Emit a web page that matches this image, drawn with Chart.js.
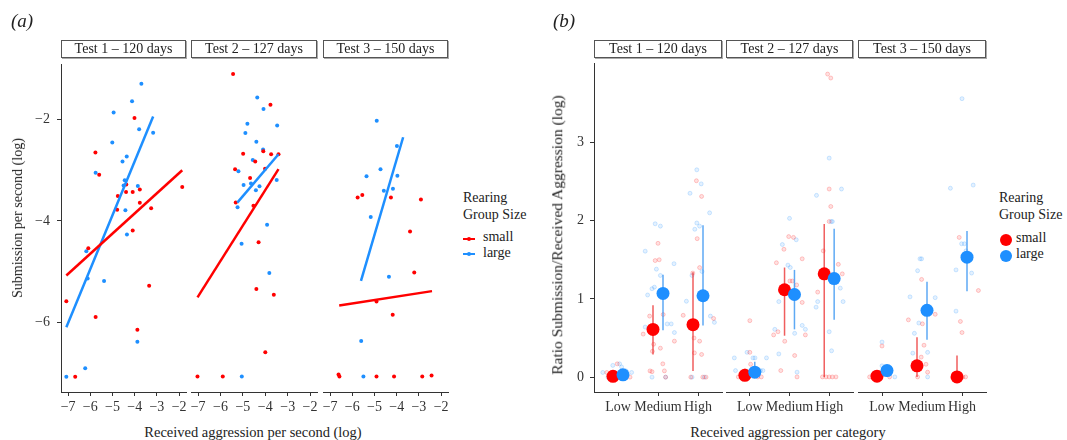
<!DOCTYPE html>
<html>
<head>
<meta charset="utf-8">
<script src="https://cdn.jsdelivr.net/npm/chart.js@4.4.1/dist/chart.umd.min.js"></script>
<style>
body { margin: 0; background: #fff; font-family: 'Liberation Serif', serif; color: #222; }
#wrap { position: relative; width: 1067px; height: 440px; overflow: hidden; }
canvas { position: absolute; }
.t { position: absolute; font-size: 14px; white-space: nowrap; line-height: 1; }
.strip { position: absolute; top: 40px; height: 18px; border: 1px solid #555; box-shadow: 1px 1px 0 #aaa;
  box-sizing: border-box; text-align: center; font-size: 14px; line-height: 16px; background: #fff; }
.lab { position: absolute; font-size: 19px; font-style: italic; }
</style>
</head>
<body>
<div id="wrap"></div>
<script>
const testLabels = ['Test 1 \u2013 120 days', 'Test 2 \u2013 127 days', 'Test 3 \u2013 150 days']
const categories = ['Low', 'Medium', 'High']
const aXTicks = [-7, -6, -5, -4, -3, -2]
const aYTicks = [-2, -4, -6]
const bYTicks = [0, 1, 2, 3]

// panel a: [received aggression, submission] (log)
const aSmall1 = [[-4.01,-1.97],[-5.77,-2.65],[-5.6,-3.09],[-4.38,-3.28],[-3.77,-3.38],[-4.09,-3.43],[-4.39,-3.43],[-4.76,-3.51],[-1.86,-3.33],[-3.77,-3.64],[-3.26,-3.75],[-4.79,-3.78],[-4.09,-4.19],[-6.09,-4.54],[-3.35,-5.28],[-7.08,-5.59],[-5.76,-5.9],[-3.88,-6.15],[-6.68,-7.08]]
const aLarge1 = [[-3.7,-1.29],[-4.12,-1.64],[-4.95,-1.86],[-3.8,-2.19],[-3.17,-2.26],[-5.01,-2.45],[-4.36,-2.73],[-4.55,-2.83],[-5.76,-3.05],[-4.45,-3.2],[-4.5,-3.3],[-3.86,-3.31],[-4.42,-3.79],[-4.35,-4.27],[-6.18,-4.6],[-6.12,-5.14],[-5.38,-5.19],[-3.88,-6.39],[-6.23,-6.91],[-7.08,-7.08]]
const aSmall2 = [[-5.44,-1.2],[-3.77,-1.8],[-4.09,-2.7],[-4.99,-2.75],[-3.74,-2.76],[-3.41,-2.76],[-4.45,-2.9],[-5.35,-3.05],[-4.01,-3.04],[-4.68,-3.22],[-5.32,-3.7],[-4.53,-3.76],[-4.3,-4.47],[-4.4,-5.38],[-3.62,-5.49],[-4.0,-6.61],[-7.03,-7.08],[-5.9,-7.08]]
const aLarge2 = [[-4.36,-1.66],[-4.08,-1.88],[-4.8,-2.17],[-3.47,-2.2],[-4.89,-2.35],[-4.4,-2.52],[-4.1,-2.67],[-4.56,-2.87],[-5.2,-3.09],[-3.49,-3.26],[-4.64,-3.33],[-4.97,-3.36],[-4.26,-3.38],[-4.42,-3.46],[-5.24,-3.79],[-3.92,-4.13],[-5.06,-4.5],[-3.82,-5.07],[-5.05,-7.08]]
const aSmall3 = [[-5.76,-3.6],[-5.55,-3.55],[-4.26,-3.6],[-2.91,-3.64],[-3.4,-4.26],[-3.21,-5.06],[-4.91,-5.62],[-4.18,-5.88],[-6.62,-7.04],[-6.58,-7.08],[-4.91,-7.08],[-4.12,-7.08],[-2.85,-7.08],[-2.43,-7.06]]
const aLarge3 = [[-4.9,-2.11],[-3.99,-2.6],[-4.73,-3.05],[-5.36,-3.19],[-3.97,-3.18],[-4.58,-3.47],[-4.17,-3.43],[-5.17,-3.98],[-4.35,-5.14],[-5.6,-6.39],[-5.5,-7.08]]
const aSmallFit = [[[-7.08,-5.08],[-1.86,-3.0]], [[-7.03,-5.54],[-3.41,-3.05]], [[-6.59,-5.7],[-2.41,-5.42]]]
const aLargeFit = [[[-7.08,-6.1],[-3.17,-1.94]], [[-5.25,-3.7],[-3.41,-2.76]], [[-5.61,-5.22],[-3.71,-2.43]]]

// panel b: means and intervals per test, categories Low/Medium/High
const smallMean = [[0.01,0.61,0.67],[0.02,1.10,1.30],[0.01,0.14,0.00]]
const smallLo   = [[0.00,0.29,0.08],[0.00,0.52,0.00],[0.00,0.00,0.00]]
const smallHi   = [[0.04,0.92,1.34],[0.05,1.38,1.93],[0.02,0.50,0.27]]
const largeMean = [[0.03,1.07,1.04],[0.06,1.04,1.24],[0.08,0.84,1.51]]
const largeLo   = [[0.00,0.60,0.66],[0.00,0.60,0.72],[0.00,0.47,1.08]]
const largeHi   = [[0.08,1.31,1.94],[0.19,1.35,1.87],[0.14,1.20,1.84]]

// panel b raw (jittered) points: [category position, ratio]
const bSmall1 = [[0.98,0.17],[1.17,0.06],[0.8,0.0],[1.1,0.0],[0.72,0.06],[1.3,0.0],[2.0,1.71],[1.93,1.49],[2.03,1.5],[1.79,0.78],[2.13,0.8],[1.63,0.55],[1.89,0.42],[2.06,0.37],[1.86,0.33],[2.41,0.46],[1.8,0.08],[1.85,0.07],[2.12,0.17],[2.16,0.08],[2.19,0.0],[2.96,2.51],[3.09,2.31],[2.98,1.77],[3.04,1.4],[2.87,1.33],[2.63,0.79],[3.39,0.75],[3.04,0.46],[3.09,0.29],[2.91,0.31],[2.9,0.5],[2.82,0.0],[3.12,0.0],[3.2,0.0]]
const bLarge1 = [[0.62,0.06],[0.87,0.15],[1.04,0.17],[1.09,0.13],[1.34,0.06],[0.75,0.0],[1.2,0.08],[1.68,1.61],[1.93,1.96],[2.06,1.93],[2.4,1.45],[1.96,1.38],[2.06,1.3],[1.74,1.05],[1.85,1.13],[1.91,1.15],[1.68,0.64],[2.23,0.68],[2.33,0.68],[2.41,0.57],[1.85,0.0],[2.19,0.0],[2.97,2.65],[3.08,2.47],[2.8,2.35],[3.29,2.1],[2.97,1.97],[2.92,1.89],[3.04,1.93],[3.1,1.35],[2.85,1.3],[2.71,0.97],[3.31,0.78],[3.41,0.7],[2.85,0.0],[3.16,0.0]]
const bSmall2 = [[1.0,0.71],[1.0,0.31],[1.02,0.16],[0.88,0.08],[0.71,0.0],[1.29,0.0],[1.2,0.0],[1.98,1.77],[2.1,1.76],[1.86,1.61],[1.67,1.44],[2.32,1.49],[2.01,1.21],[2.07,1.21],[2.18,1.16],[2.32,0.94],[1.6,0.53],[1.71,0.57],[1.88,0.45],[2.4,0.53],[2.13,0.27],[1.78,0.08],[2.19,0.0],[2.96,3.82],[3.04,3.77],[3.0,2.37],[3.04,2.15],[3.0,1.96],[2.85,1.59],[2.71,1.07],[3.33,1.3],[3.23,1.42],[2.83,0.0],[2.92,0.0],[3.0,0.0],[3.08,0.0],[3.17,0.0]]
const bLarge2 = [[0.61,0.24],[0.93,0.31],[1.08,0.24],[0.64,0.08],[1.27,0.08],[1.33,0.08],[1.42,0.24],[1.13,0.24],[2.0,2.0],[2.17,1.73],[1.82,1.67],[1.96,1.41],[2.02,1.38],[1.73,0.95],[1.63,0.6],[2.32,0.65],[2.4,0.6],[2.13,0.55],[1.73,0.29],[2.19,0.06],[3.0,2.76],[3.31,2.37],[2.68,2.29],[3.05,1.96],[3.08,1.96],[3.28,1.12],[3.35,0.95],[2.71,0.95],[2.67,0.88],[3.0,0.57],[3.06,0.33]]
const bSmall3 = [[1.0,0.39],[0.69,0.0],[1.19,0.0],[1.99,1.23],[2.33,0.79],[1.66,0.72],[2.01,0.67],[2.05,0.4],[1.98,0.25],[2.1,0.16],[2.14,0.06],[1.89,0.0],[2.93,1.76],[3.41,1.09],[2.96,0.7],[3.0,0.56],[3.02,0.0],[3.09,0.0]]
const bLarge3 = [[1.0,0.44],[1.0,0.14],[1.32,0.0],[0.9,0.0],[1.99,1.49],[1.95,1.49],[1.89,1.34],[1.7,1.01],[2.33,1.0],[1.92,0.68],[1.81,0.55],[2.14,0.31],[1.77,0.3],[2.14,0.0],[3.0,3.51],[2.71,2.38],[3.28,2.42],[2.99,1.68],[3.06,1.68],[3.1,1.59],[2.85,1.35],[3.24,1.31],[2.85,0.83]]

const RED = '#ff0000'
const BLUE = '#1e8fff'
const DODGE = 0.125

Chart.defaults.font.family = "'Liberation Serif', serif"
Chart.defaults.font.size = 14
Chart.defaults.color = '#333'

const wrap = document.getElementById('wrap')
const TOP = 49

const minus = v => (v < 0 ? '\u2212' : '') + Math.abs(v)
const pts = arr => arr.map(([x, y]) => ({ x, y }))

const addText = (html, style, cls) => {
    const d = document.createElement('div')
    d.className = cls || 't'
    d.style.cssText = style
    d.innerHTML = html
    wrap.appendChild(d)
}

const makeFacet = (f) => {
    const padL = 10, padR = 10
    const yw = f.showY ? f.yw : 0
    const c = document.createElement('canvas')
    c.width = (f.right - f.left) + yw + padL + padR
    c.height = 420 - TOP
    c.style.left = (f.left - yw - padL) + 'px'
    c.style.top = TOP + 'px'
    wrap.appendChild(c)
    addText(f.strip, `left:${f.left}px;width:${f.right - f.left}px`, 'strip')

    new Chart(c, {
        type: 'scatter',
        data: { datasets: f.datasets },
        options: {
            responsive: false,
            animation: false,
            devicePixelRatio: 1,
            layout: { padding: { top: 10, left: padL, right: padR, bottom: 0 } },
            plugins: { legend: { display: false }, tooltip: { enabled: false } },
            scales: {
                x: {
                    type: 'linear', min: f.xMin, max: f.xMax,
                    afterBuildTicks: s => { s.ticks = f.xTicks.map(v => ({ value: v })) },
                    afterFit: s => { s.height = 28 },
                    border: { display: true, color: '#333', width: 1 },
                    grid: { drawOnChartArea: false, tickLength: 4, color: '#333' },
                    ticks: { padding: 3, maxRotation: 0, autoSkip: false, callback: f.xFmt }
                },
                y: {
                    type: 'linear', min: f.yMin, max: f.yMax, display: f.showY,
                    afterBuildTicks: s => { s.ticks = f.yTicks.map(v => ({ value: v })) },
                    afterFit: s => { s.width = yw },
                    border: { display: true, color: '#333', width: 1 },
                    grid: { drawOnChartArea: false, tickLength: 4, color: '#333' },
                    ticks: { padding: f.yPad, callback: minus }
                }
            }
        }
    })
}

// ---- panel a
const aLefts = [61, 191, 323]
const aRights = [186, 317, 448]
const aSmall = [aSmall1, aSmall2, aSmall3]
const aLarge = [aLarge1, aLarge2, aLarge3]
for (let i = 0; i < 3; i++) {
    makeFacet({
        left: aLefts[i], right: aRights[i], showY: i === 0, yw: 51, yPad: 7,
        strip: testLabels[i],
        xMin: -7.32, xMax: -1.69, xTicks: aXTicks, xFmt: minus,
        yMin: -7.38, yMax: -0.91, yTicks: aYTicks,
        datasets: [
            { data: pts(aSmallFit[i]), showLine: true, borderColor: RED, borderWidth: 2.5, pointRadius: 0, order: 0 },
            { data: pts(aLargeFit[i]), showLine: true, borderColor: BLUE, borderWidth: 2.5, pointRadius: 0, order: 0 },
            { data: pts(aSmall[i]), backgroundColor: RED, borderWidth: 0, pointRadius: 2, order: 1 },
            { data: pts(aLarge[i]), backgroundColor: BLUE, borderWidth: 0, pointRadius: 2, order: 1 }
        ]
    })
}

// ---- panel b
const bLefts = [594, 726, 858]
const bRights = [722, 853, 986]
const bSmall = [bSmall1, bSmall2, bSmall3]
const bLarge = [bLarge1, bLarge2, bLarge3]
for (let i = 0; i < 3; i++) {
    const sets = []
    categories.forEach((c, k) => {
        sets.push({ data: [{ x: k + 1 - DODGE, y: smallLo[i][k] }, { x: k + 1 - DODGE, y: smallHi[i][k] }],
            showLine: true, borderColor: 'rgba(235,40,40,0.75)', borderWidth: 1.5, pointRadius: 0, order: 1 })
        sets.push({ data: [{ x: k + 1 + DODGE, y: largeLo[i][k] }, { x: k + 1 + DODGE, y: largeHi[i][k] }],
            showLine: true, borderColor: 'rgba(40,140,240,0.75)', borderWidth: 1.5, pointRadius: 0, order: 1 })
    })
    sets.push({ data: largeMean[i].map((m, k) => ({ x: k + 1 + DODGE, y: m })), backgroundColor: BLUE, borderWidth: 0, pointRadius: 6.5, order: 0 })
    sets.push({ data: smallMean[i].map((m, k) => ({ x: k + 1 - DODGE, y: m })), backgroundColor: RED, borderWidth: 0, pointRadius: 6.5, order: 0 })
    sets.push({ data: pts(bSmall[i]), backgroundColor: 'rgba(255,0,0,0.12)', borderColor: 'rgba(255,0,0,0.2)', borderWidth: 1, pointRadius: 2, order: 2 })
    sets.push({ data: pts(bLarge[i]), backgroundColor: 'rgba(30,143,255,0.12)', borderColor: 'rgba(30,143,255,0.2)', borderWidth: 1, pointRadius: 2, order: 2 })
    makeFacet({
        left: bLefts[i], right: bRights[i], showY: i === 0, yw: 30, yPad: 6,
        strip: testLabels[i],
        xMin: 0.4, xMax: 3.6, xTicks: [1, 2, 3], xFmt: v => categories[v - 1],
        yMin: -0.19, yMax: 4.01, yTicks: bYTicks,
        datasets: sets
    })
}

// ---- labels, titles, legends
addText('(a)', 'left:11px;top:10px', 'lab')
addText('(b)', 'left:553px;top:10px', 'lab')
addText('Submission per second (log)', 'left:18px;top:218px;transform:translate(-50%,-50%) rotate(-90deg)')
addText('Ratio Submission/Received Aggression (log)', 'left:557px;top:235px;font-size:15.5px;transform:translate(-50%,-50%) rotate(-90deg)')
addText('Received aggression per second (log)', 'left:253px;top:432px;font-size:14.5px;transform:translate(-50%,-50%)')
addText('Received aggression per category', 'left:788px;top:432px;font-size:14.5px;transform:translate(-50%,-50%)')

addText('Rearing', 'left:463px;top:191px')
addText('Group Size', 'left:463px;top:208px')
addText('small', 'left:483px;top:230px')
addText('large', 'left:483px;top:246px')
addText('', `left:463px;top:238px;width:12px;height:2px;background:${RED}`)
addText('', `left:467px;top:237px;width:4px;height:4px;border-radius:2px;background:${RED}`)
addText('', `left:463px;top:253px;width:12px;height:2px;background:${BLUE}`)
addText('', `left:467px;top:252px;width:4px;height:4px;border-radius:2px;background:${BLUE}`)

addText('Rearing', 'left:999px;top:191px')
addText('Group Size', 'left:999px;top:208px')
addText('small', 'left:1016px;top:231px')
addText('large', 'left:1016px;top:247px')
addText('', `left:1000px;top:234px;width:12px;height:12px;border-radius:6px;background:${RED}`)
addText('', `left:1000px;top:250px;width:12px;height:12px;border-radius:6px;background:${BLUE}`)
</script>
</body>
</html>
